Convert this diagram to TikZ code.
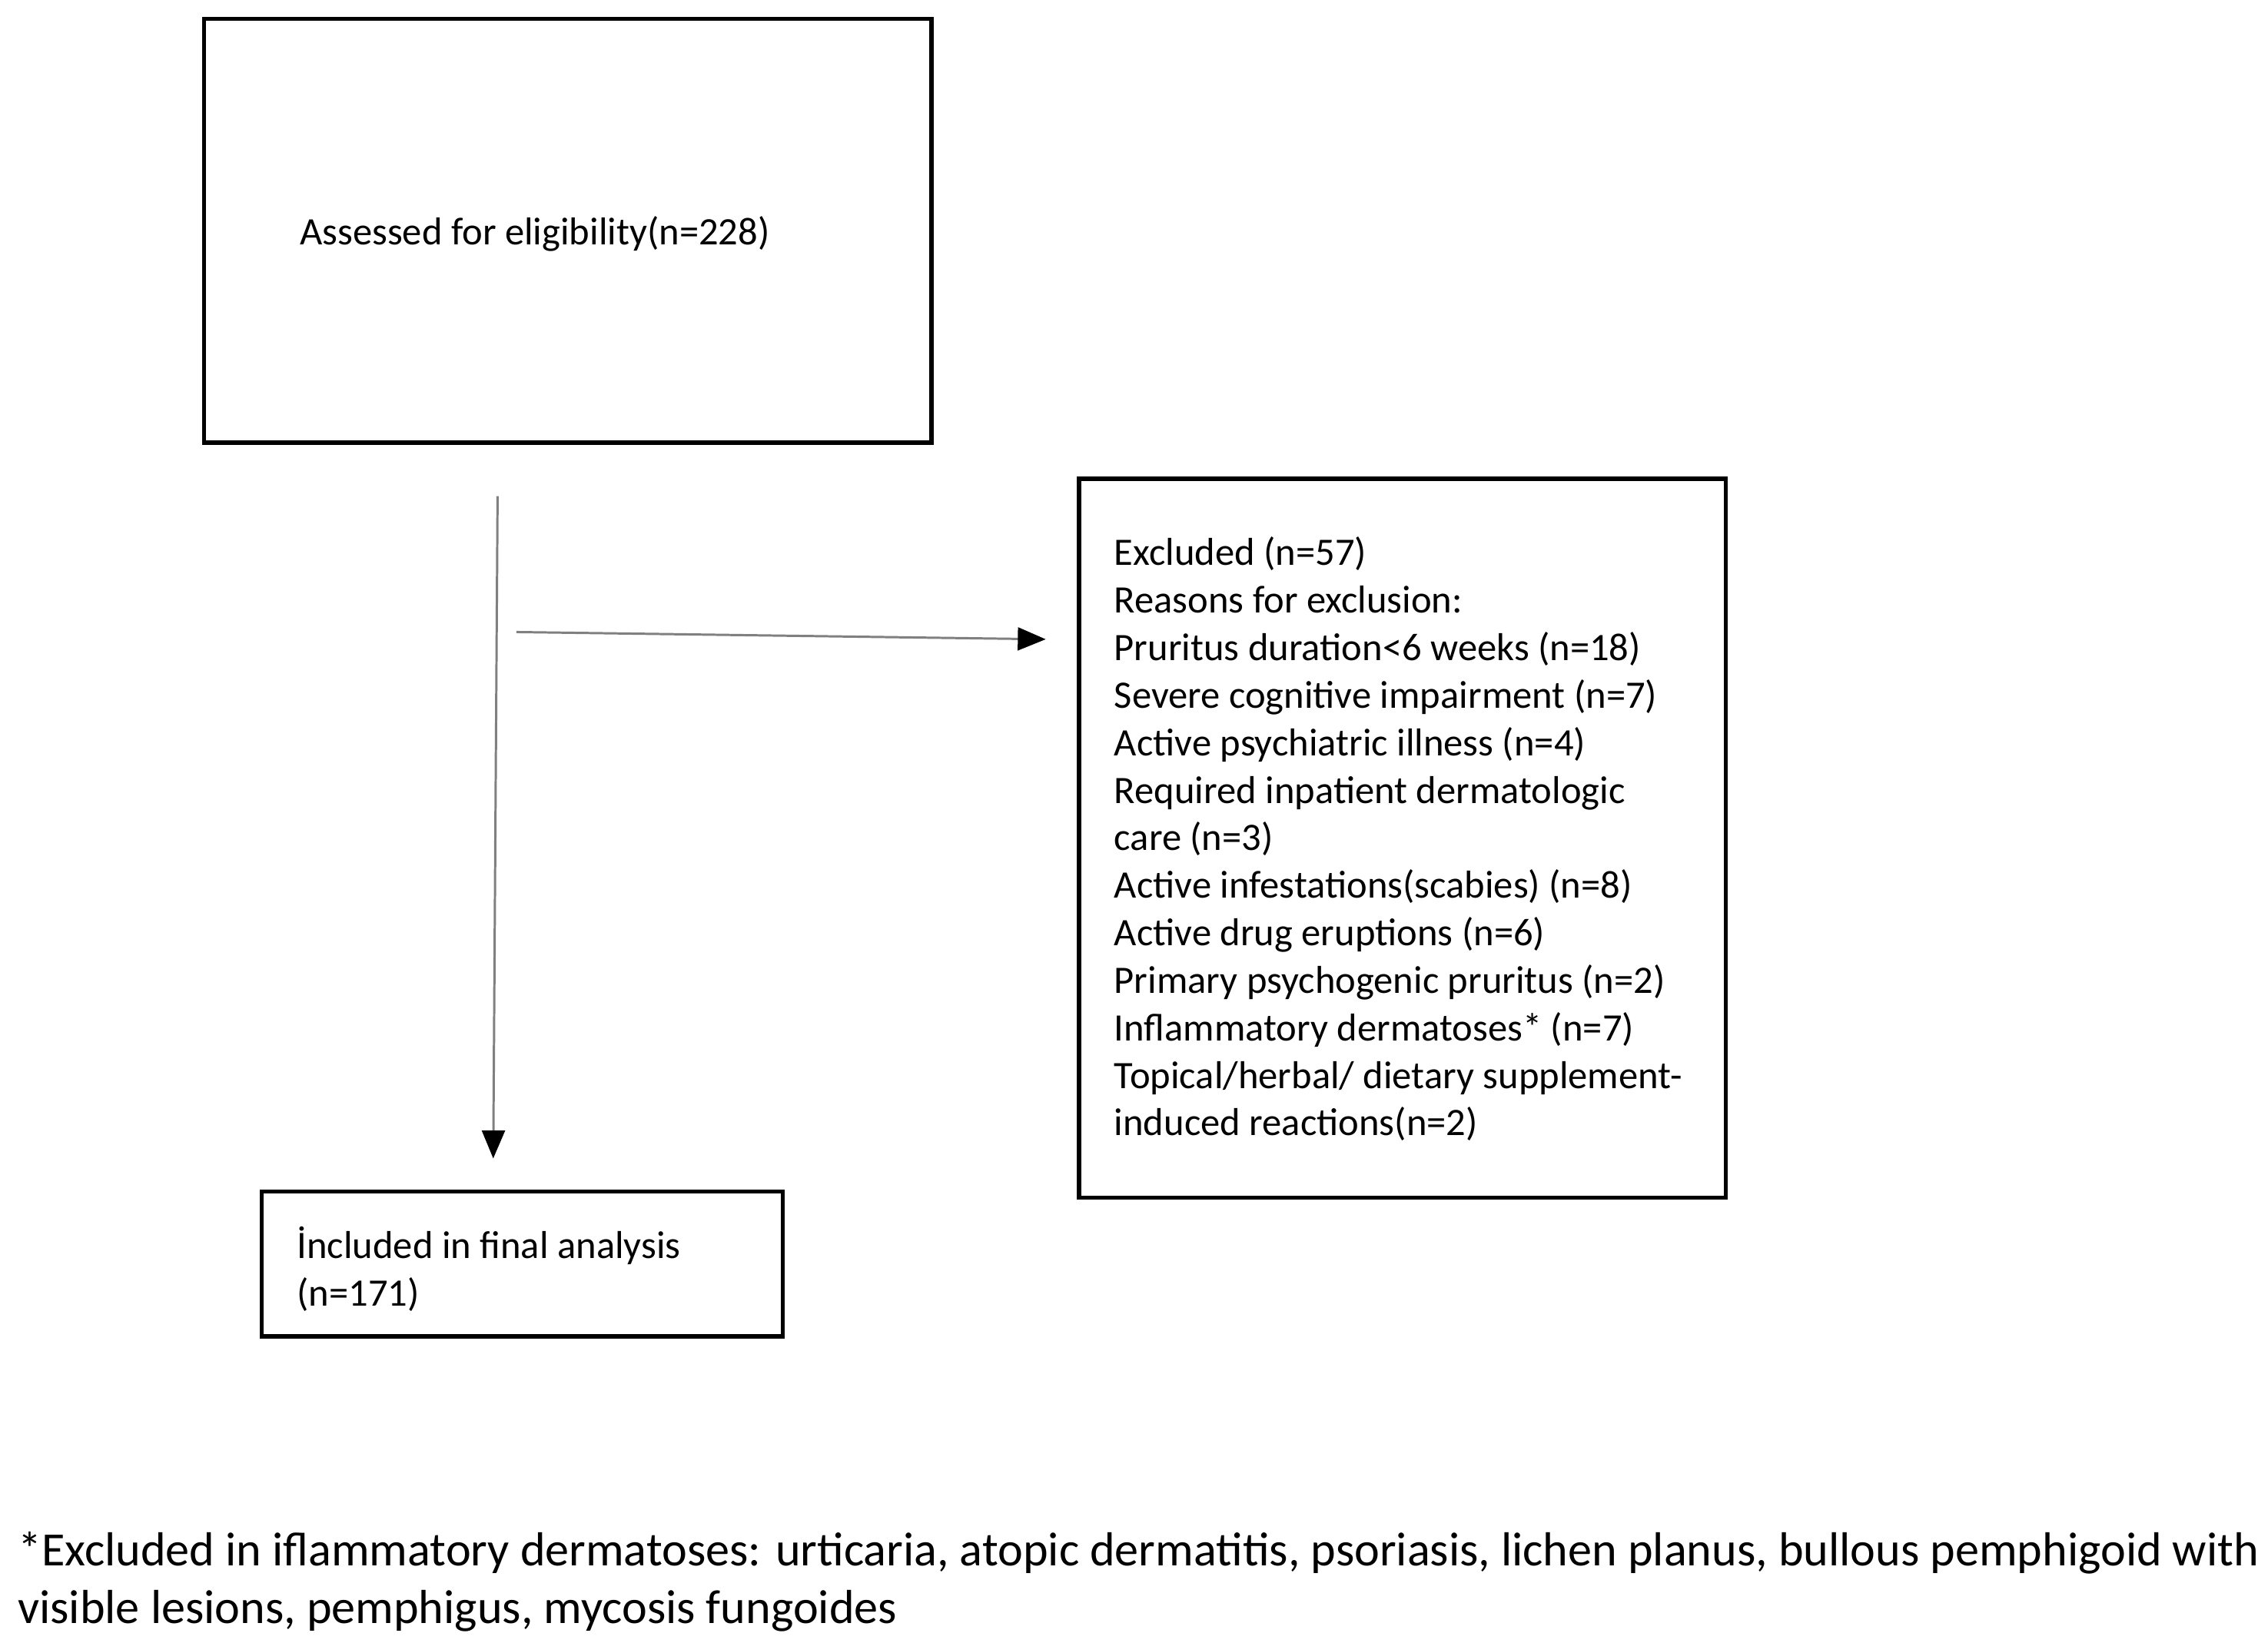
\documentclass[tikz,border=0pt]{standalone}
\usepackage{fontspec}
\setmainfont{Carlito}
\usetikzlibrary{arrows.meta}
\begin{document}
\begin{tikzpicture}[x=0.02cm, y=-0.02cm,
  box/.style={draw, line width=1.6pt},
  txt/.style={anchor=north west, inner sep=0pt, align=left, font=\fontsize{15.3}{18.7}\selectfont},
  flow/.style={draw=gray, line width=0.9pt, -{Triangle[black, length=11pt, width=9pt]}}]
\useasboundingbox (0,0) rectangle (1568,1136);
\draw[box] (141,13) rectangle (644,306);
\draw[box] (746,331) rectangle (1193,828);
\draw[box] (181,824) rectangle (541,924);
\node[txt] (assessed) at (207,149) {Assessed for eligibility(n=228)};
\node[txt] (excluded) at (770,371) {Excluded (n=57)\\Reasons for exclusion:\\Pruritus duration<6 weeks (n=18)\\Severe cognitive impairment (n=7)\\Active psychiatric illness (n=4)\\Required inpatient dermatologic\\care (n=3)\\Active infestations(scabies) (n=8)\\Active drug eruptions (n=6)\\Primary psychogenic pruritus (n=2)\\Inflammatory dermatoses* (n=7)\\Topical/herbal/ dietary supplement-\\induced reactions(n=2)};
\node[txt] (included) at (205,848) {İncluded in final analysis\\(n=171)};
\node[txt, font=\fontsize{18.8}{22.7}\selectfont] (note) at (12,1059) {*Excluded in iflammatory dermatoses: urticaria, atopic dermatitis, psoriasis, lichen planus, bullous pemphigoid with\\visible lesions, pemphigus, mycosis fungoides};
\coordinate (vtop) at (344,343);
\coordinate (vend) at (341,801);
\coordinate (hstart) at (357,437);
\coordinate (hend) at (723,442);
\draw[flow] (vtop) -- (vend);
\draw[flow] (hstart) -- (hend);
\end{tikzpicture}
\end{document}
